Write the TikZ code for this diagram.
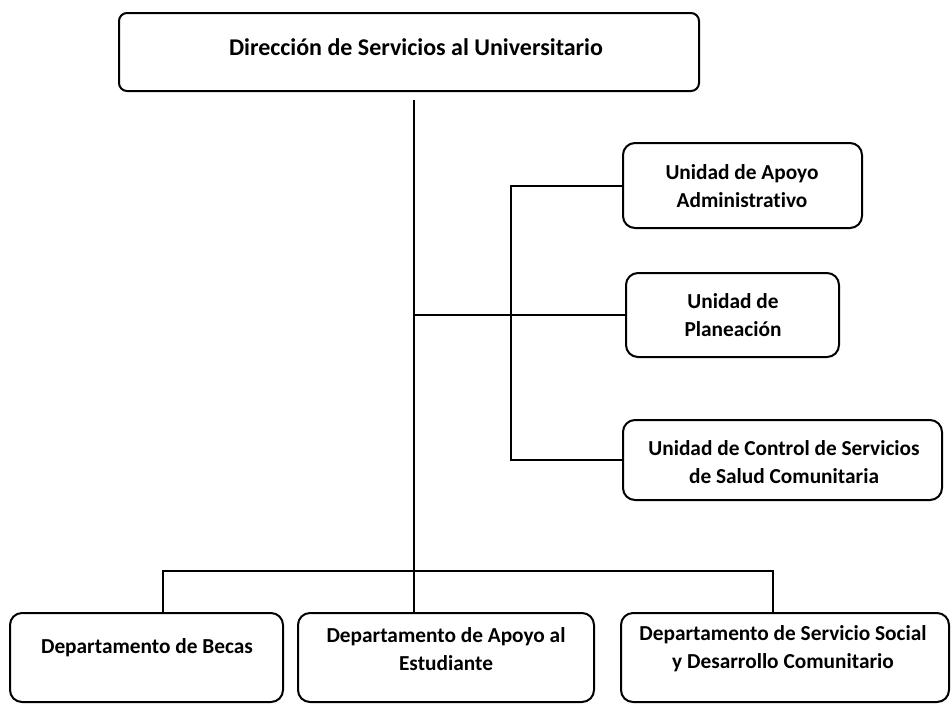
\documentclass[tikz,border=0pt]{standalone}
\usepackage{fontspec}
\setmainfont{Carlito}[Ligatures = {NoCommon, NoRare}]
\usetikzlibrary{fit}

\begin{document}
\begin{tikzpicture}[x = 0.75pt, y = -0.75pt,
  box/.style = {draw, line width = 1.5pt, rounded corners = 9pt, inner sep = 0pt},
  lbl/.style = {align = center, inner sep = 0pt, font = \bfseries\fontsize{16}{21}\selectfont},
  link/.style = {line width = 1.5pt}]
\useasboundingbox (0, 0) rectangle (952, 704);
% boxes
\node[box, rounded corners = 6pt, fit = {(119, 13) (699, 91)}] (dir) {};
\node[box, fit = {(623, 143) (862, 228)}] (apadm) {};
\node[box, fit = {(626, 273) (839, 357)}] (plan) {};
\node[box, fit = {(623, 420) (942, 500)}] (salud) {};
\node[box, fit = {(10, 613) (283, 702)}] (becas) {};
\node[box, fit = {(298, 613) (594, 702)}] (estud) {};
\node[box, fit = {(621, 613) (949, 702)}] (serv) {};
% texts
\node[lbl, font = \bfseries\fontsize{18}{22}\selectfont] (dirT) at (416, 47) {Dirección de Servicios al Universitario};
\node[lbl] (apadmT) at (742, 186) {Unidad de Apoyo\\Administrativo};
\node[lbl] (planT) at (733, 315) {Unidad de\\Planeación};
\node[lbl] (saludT) at (784, 462) {Unidad de Control de Servicios\\de Salud Comunitaria};
\node[lbl] (becasT) at (147, 648) {Departamento de Becas};
\node[lbl] (estudT) at (446, 649) {Departamento de Apoyo al\\Estudiante};
\node[lbl] (servT) at (783, 649) {Departamento de Servicio Social\\y Desarrollo Comunitario};
% lines
\coordinate (trunk) at (414, 100);
\coordinate (sub) at (511, 315);
\coordinate (busL) at (163, 571);
\coordinate (busR) at (773, 571);
\draw[link] (trunk) -- (trunk |- estud.north);
\draw[link] (trunk |- plan.west) -- (plan.west);
\draw[link] (apadm.west) -| (sub) |- (salud.west);
\draw[link] (busL |- becas.north) -- (busL) -- (busR) -- (busR |- serv.north);
\end{tikzpicture}
\end{document}
